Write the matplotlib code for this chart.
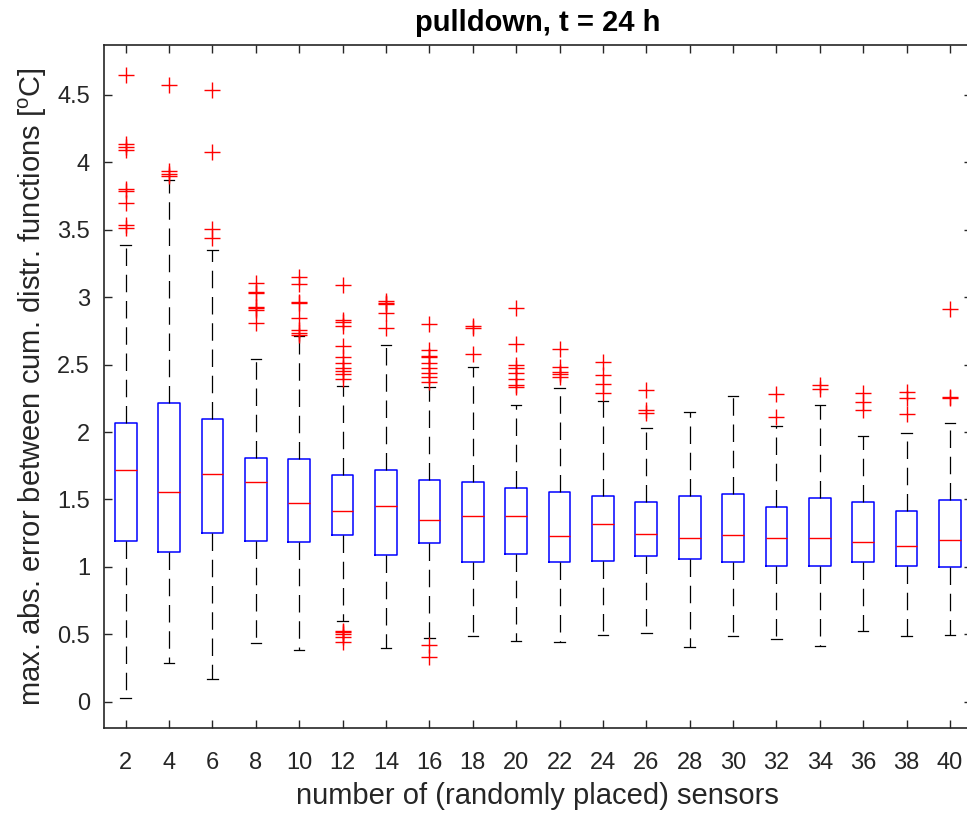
import matplotlib
matplotlib.use("Agg")
import matplotlib.pyplot as plt

plt.rcParams['font.family'] = ['Liberation Sans', 'DejaVu Sans']
plt.rcParams['mathtext.fontset'] = 'custom'
plt.rcParams['mathtext.rm'] = 'Liberation Sans'

# number of sensors (x categories)
sensors = [2, 4, 6, 8, 10, 12, 14, 16, 18, 20, 22, 24, 26, 28, 30, 32, 34, 36, 38, 40]

# box statistics per sensor count
q1 = [1.19, 1.11, 1.253, 1.194, 1.184, 1.236, 1.090, 1.174, 1.036, 1.095,
      1.038, 1.045, 1.078, 1.060, 1.038, 1.008, 1.008, 1.036, 1.006, 1.001]
med = [1.72, 1.555, 1.688, 1.629, 1.475, 1.416, 1.453, 1.345, 1.374, 1.379,
       1.231, 1.320, 1.245, 1.216, 1.238, 1.216, 1.213, 1.186, 1.154, 1.199]
q3 = [2.07, 2.217, 2.096, 1.809, 1.797, 1.678, 1.720, 1.646, 1.631, 1.582,
      1.557, 1.527, 1.478, 1.527, 1.540, 1.441, 1.508, 1.483, 1.416, 1.495]
whislo = [0.03, 0.287, 0.168, 0.435, 0.383, 0.600, 0.398, 0.472, 0.489, 0.448,
          0.443, 0.492, 0.509, 0.408, 0.489, 0.467, 0.410, 0.524, 0.485, 0.494]
whishi = [3.385, 3.867, 3.348, 2.540, 2.711, 2.340, 2.644, 2.331, 2.484, 2.199,
          2.323, 2.231, 2.027, 2.150, 2.266, 2.046, 2.197, 1.967, 1.994, 2.068]

# outliers per sensor count
outliers = [
    [4.645, 4.135, 4.11, 4.095, 3.80, 3.79, 3.695, 3.535, 3.515],
    [4.577, 3.934, 3.91, 3.90],
    [4.534, 4.077, 3.502, 3.44],
    [3.106, 3.035, 3.03, 2.93, 2.916, 2.904, 2.805],
    [3.15, 3.10, 2.965, 2.955, 2.842, 2.755, 2.731, 2.72],
    [3.089, 2.83, 2.815, 2.785, 2.637, 2.553, 2.513, 2.471, 2.45, 2.429, 2.39,
     0.526, 0.515, 0.502, 0.482, 0.445],
    [2.97, 2.958, 2.95, 2.879, 2.773],
    [2.800, 2.607, 2.56, 2.553, 2.513, 2.471, 2.434, 2.409, 2.372, 0.423, 0.329],
    [2.785, 2.775, 2.578],
    [2.923, 2.649, 2.496, 2.471, 2.434, 2.39, 2.348, 2.335],
    [2.612, 2.479, 2.446, 2.429, 2.405],
    [2.520, 2.420, 2.353, 2.291],
    [2.311, 2.162, 2.138],
    [],
    [],
    [2.279, 2.113],
    [2.348, 2.316],
    [2.286, 2.224, 2.162],
    [2.298, 2.254, 2.130],
    [2.909, 2.261, 2.249],
]

stats = []
for i in range(len(sensors)):
    stats.append({'med': med[i], 'q1': q1[i], 'q3': q3[i],
                  'whislo': whislo[i], 'whishi': whishi[i],
                  'fliers': outliers[i], 'label': str(sensors[i])})

fig = plt.figure(figsize=(9.67, 8.14), dpi=100)
W, H = 967.0, 814.0
ax = fig.add_axes([104 / W, 1 - 728 / H, (971.7 - 104) / W, (728 - 45) / H])

positions = list(range(1, len(sensors) + 1))
ax.bxp(stats, positions=positions, widths=0.5, capwidths=0.24,
       boxprops=dict(color='#0000FF', linewidth=1.1),
       medianprops=dict(color='#FF0000', linewidth=1.0),
       whiskerprops=dict(color='black', linewidth=0.9, linestyle=(0, (14, 7))),
       capprops=dict(color='black', linewidth=0.9),
       flierprops=dict(marker='+', markeredgecolor='#FF0000', markersize=11,
                       markeredgewidth=1.0, linestyle='none'))

ax.set_xlim(0.5, len(sensors) + 0.5)
ax.set_ylim(-0.195, 4.87)
yt = [0, 0.5, 1, 1.5, 2, 2.5, 3, 3.5, 4, 4.5]
ax.set_yticks(yt)
ax.set_yticklabels(['%g' % v for v in yt])
ax.set_xticks(positions)
ax.set_xticklabels([str(s) for s in sensors])

for s in ax.spines.values():
    s.set_linewidth(1.2)
    s.set_color('#262626')
ax.tick_params(direction='in', length=6, width=1.0, color='#262626',
               top=True, right=True, labelsize=17, labelcolor='#262626')
ax.tick_params(axis='x', pad=17)
ax.tick_params(axis='y', pad=10)

ax.set_xlabel('number of (randomly placed) sensors', fontsize=21, color='#262626', labelpad=6)
ax.set_ylabel(r'max. abs. error between cum. distr. functions [$^{\rm o}$C]',
              fontsize=21, color='#262626', labelpad=6)
ax.set_title('pulldown, t = 24 h', fontsize=21, fontweight='bold', pad=10)

fig.savefig('out.png', dpi=100)
